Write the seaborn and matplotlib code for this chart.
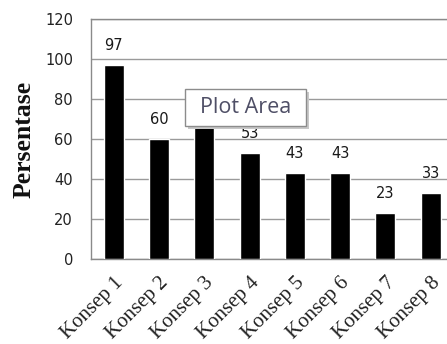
import matplotlib
matplotlib.use("Agg")
import matplotlib.pyplot as plt
import seaborn as sns
import pandas as pd
from matplotlib.patches import FancyBboxPatch

# Chart data
categories = ["Konsep 1", "Konsep 2", "Konsep 3", "Konsep 4",
              "Konsep 5", "Konsep 6", "Konsep 7", "Konsep 8"]
values = [97, 60, 70, 53, 43, 43, 23, 33]
y_ticks = [0, 20, 40, 60, 80, 100, 120]

df = pd.DataFrame({"Konsep": categories, "Persentase": values})

sns.set_theme(style="white")
plt.rcParams["font.family"] = ["DejaVu Sans"]

fig = plt.figure(figsize=(4.47, 3.44), dpi=100)
ax = fig.add_axes([0.2036, 0.247, 0.8107, 0.6977])

sns.barplot(data=df, x="Konsep", y="Persentase", color="black",
            width=0.44, saturation=1, ax=ax, zorder=3)

ax.set_xlim(-0.5, 7.5)
ax.set_ylim(0, 120)
ax.set_yticks(y_ticks)
ax.set_yticklabels([str(t) for t in y_ticks], fontsize=10.5,
                   family="DejaVu Sans", color="#222222")
ax.tick_params(axis="y", length=0, pad=13)
ax.tick_params(axis="x", length=0, pad=10)
ax.set_xticks(range(len(categories)))
ax.set_xticklabels(categories, rotation=45, ha="right",
                   rotation_mode="anchor", fontsize=15,
                   family="Liberation Serif", color="#222222")

ax.yaxis.grid(True, color="#9a9a9a", linewidth=1.0, zorder=0)
for side in ["left", "bottom", "top", "right"]:
    ax.spines[side].set_color("#8a8a8a")
    ax.spines[side].set_linewidth(1.0)

ax.set_xlabel("")
ax.set_ylabel("Persentase", fontsize=18.5, fontweight="bold",
              family="Liberation Serif", labelpad=7, color="#111111")

# value labels above each bar (the one for Konsep 3 sits under the hover tip)
tip_cover = {2}
for i, v in enumerate(values):
    if i in tip_cover:
        continue
    ax.annotate(str(v), xy=(i, v), xytext=(0, 11),
                textcoords="offset points", ha="center", va="baseline",
                fontsize=10.5, family="DejaVu Sans", color="#1a1a1a",
                zorder=4)

# "Plot Area" hover tip
tip_x0, tip_y0, tip_w, tip_h = 185 / 447, 1 - 126 / 344, 121 / 447, 37 / 344
shadow = FancyBboxPatch((tip_x0 + 0.006, tip_y0 - 0.008), tip_w, tip_h,
                        boxstyle="square,pad=0", transform=fig.transFigure,
                        facecolor="#c8c8c8", edgecolor="none", zorder=9)
box = FancyBboxPatch((tip_x0, tip_y0), tip_w, tip_h,
                     boxstyle="square,pad=0", transform=fig.transFigure,
                     facecolor="white", edgecolor="#8c8c8c", linewidth=1.0,
                     zorder=10)
fig.patches.extend([shadow, box])
fig.text(tip_x0 + tip_w / 2, tip_y0 + tip_h / 2, "Plot Area",
         ha="center", va="center", fontsize=15.5, family="Open Sans",
         color="#4f4f66", zorder=11)

fig.savefig("out.png", dpi=100)
